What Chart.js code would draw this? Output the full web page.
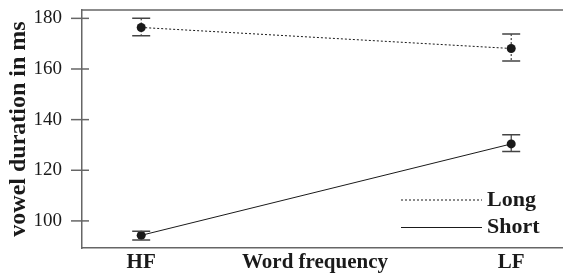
<!DOCTYPE html>
<html>
<head>
<meta charset="utf-8">
<script src="https://cdn.jsdelivr.net/npm/chart.js@4.4.1/dist/chart.umd.min.js"></script>
<style>
  html, body { margin: 0; padding: 0; background: #fff; }
  #wrap { width: 563px; height: 274px; }
</style>
</head>
<body>
<div id="wrap"><canvas id="durationChart" width="563" height="274"></canvas></div>
<script>
// frequency conditions (x positions 1 and 2)
var categories = ['HF', 'LF'];
var yTicks = [100, 120, 140, 160, 180];

// mean vowel duration (ms) with error bar limits
var longMeans = [176.4, 168.1];
var longUpper = [180.0, 173.8];
var longLower = [173.1, 163.2];

var shortMeans = [94.3, 130.4];
var shortUpper = [95.9, 134.0];
var shortLower = [92.5, 127.4];

var serif = '"Liberation Serif", "DejaVu Serif", serif';
var ink = '#1a1a1a';
var axisGrey = '#666666';

function toPoints(values) {
    return values.map(function(v, i) { return { x: i + 1, y: v }; });
}

// error bars, top border, y tick marks, x labels and legend
var decorations = {
    id: 'decorations',
    afterDatasetsDraw: function(chart) {
        var ctx = chart.ctx;
        var area = chart.chartArea;
        var xs = chart.scales.x;
        var ys = chart.scales.y;

        ctx.save();
        // error bars
        chart.data.datasets.forEach(function(ds) {
            ds.data.forEach(function(pt, i) {
                var x = xs.getPixelForValue(pt.x);
                var yTop = ys.getPixelForValue(ds.upper[i]);
                var yBot = ys.getPixelForValue(ds.lower[i]);
                ctx.strokeStyle = ink;
                ctx.lineWidth = 1;
                ctx.setLineDash(ds.borderDash || []);
                ctx.beginPath();
                ctx.moveTo(x, yTop);
                ctx.lineTo(x, yBot);
                ctx.stroke();
                ctx.setLineDash([]);
                ctx.strokeStyle = '#444';
                ctx.lineWidth = 1.5;
                ctx.beginPath();
                ctx.moveTo(x - 9, yTop);
                ctx.lineTo(x + 9, yTop);
                ctx.moveTo(x - 9, yBot);
                ctx.lineTo(x + 9, yBot);
                ctx.stroke();
            });
        });

        // frame: top line
        ctx.strokeStyle = axisGrey;
        ctx.lineWidth = 1.5;
        ctx.beginPath();
        ctx.moveTo(area.left, area.top);
        ctx.lineTo(area.right, area.top);
        ctx.stroke();

        // y tick marks crossing the axis
        yTicks.forEach(function(t) {
            var y = ys.getPixelForValue(t);
            ctx.beginPath();
            ctx.moveTo(area.left - 11, y);
            ctx.lineTo(area.left + 7, y);
            ctx.stroke();
        });

        // x category labels and title on one line
        ctx.fillStyle = ink;
        ctx.font = 'bold 21px ' + serif;
        ctx.textAlign = 'center';
        ctx.textBaseline = 'middle';
        var labelY = area.bottom + 15;
        categories.forEach(function(c, i) {
            ctx.fillText(c, xs.getPixelForValue(i + 1), labelY);
        });
        ctx.fillText('Word frequency', 315, labelY);

        // legend
        ctx.textAlign = 'left';
        ctx.font = 'bold 22px ' + serif;
        chart.data.datasets.forEach(function(ds, i) {
            var ly = 200 + i * 27.5;
            ctx.strokeStyle = ink;
            ctx.lineWidth = 1;
            ctx.setLineDash(ds.borderDash || []);
            ctx.beginPath();
            ctx.moveTo(401, ly);
            ctx.lineTo(482, ly);
            ctx.stroke();
            ctx.setLineDash([]);
            ctx.fillText(ds.label, 487, ly);
        });
        ctx.restore();
    }
};

var ctxDuration = document.getElementById('durationChart').getContext('2d');
var durationChart = new Chart(ctxDuration, {
    type: 'line',
    data: {
        datasets: [{
            label: 'Long',
            data: toPoints(longMeans),
            upper: longUpper,
            lower: longLower,
            borderColor: ink,
            borderWidth: 1,
            borderDash: [2, 2],
            pointRadius: 4.5,
            pointBackgroundColor: ink,
            pointBorderColor: ink,
            pointBorderWidth: 0
        }, {
            label: 'Short',
            data: toPoints(shortMeans),
            upper: shortUpper,
            lower: shortLower,
            borderColor: ink,
            borderWidth: 1,
            pointRadius: 4.5,
            pointBackgroundColor: ink,
            pointBorderColor: ink,
            pointBorderWidth: 0
        }]
    },
    options: {
        responsive: false,
        animation: false,
        layout: { autoPadding: false, padding: { top: 10, right: 0, left: 0, bottom: 0 } },
        plugins: {
            legend: { display: false },
            tooltip: { enabled: false }
        },
        scales: {
            x: {
                type: 'linear',
                min: 0.84,
                max: 2.14,
                grid: { display: false },
                border: { display: true, color: axisGrey, width: 1.5 },
                ticks: { display: false },
                afterFit: function(scale) {
                    scale.height = 26;
                    scale.paddingLeft = 0;
                    scale.paddingRight = 0;
                }
            },
            y: {
                min: 89.3,
                max: 183.3,
                grid: { display: false },
                border: { display: true, color: axisGrey, width: 1.5 },
                afterBuildTicks: function(scale) {
                    scale.ticks = yTicks.map(function(v) { return { value: v }; });
                },
                ticks: {
                    color: ink,
                    padding: 12,
                    font: { family: serif, size: 19 }
                },
                title: {
                    display: true,
                    text: 'vowel duration in ms',
                    color: ink,
                    font: { family: serif, size: 24, weight: 'bold' },
                    padding: { top: 4, bottom: 0 }
                },
                afterFit: function(scale) {
                    scale.width = 82;
                    scale.paddingTop = 0;
                    scale.paddingBottom = 0;
                }
            }
        }
    },
    plugins: [decorations]
});
</script>
</body>
</html>
